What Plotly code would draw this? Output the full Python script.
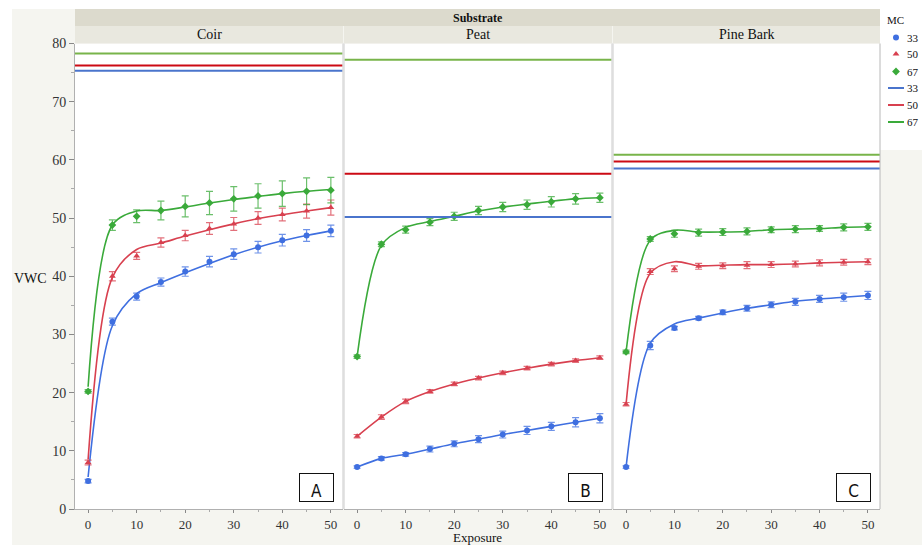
import plotly.graph_objects as go

exposure = [0, 5, 10, 15, 20, 25, 30, 35, 40, 45, 50]
mc_levels = [33, 50, 67]
substrates = ["Coir", "Peat", "Pine Bark"]
panel_letters = ["A", "B", "C"]

# means (VWC) per MC level
coir_mean = {33: [4.8, 32.2, 36.5, 39.0, 40.8, 42.5, 43.8, 45.0, 46.2, 47.0, 47.8],
             50: [8.0, 40.0, 43.5, 45.8, 47.0, 48.2, 49.0, 50.0, 50.6, 51.2, 51.8],
             67: [20.2, 48.8, 50.3, 51.3, 52.0, 52.6, 53.3, 53.8, 54.2, 54.6, 54.8]}
peat_mean = {33: [7.2, 8.7, 9.4, 10.3, 11.2, 12.0, 12.8, 13.5, 14.2, 14.9, 15.6],
             50: [12.5, 15.8, 18.5, 20.2, 21.5, 22.5, 23.4, 24.2, 24.9, 25.5, 26.0],
             67: [26.2, 45.5, 48.0, 49.3, 50.3, 51.3, 51.9, 52.3, 52.8, 53.3, 53.5]}
pine_mean = {33: [7.2, 28.1, 31.1, 32.8, 33.8, 34.5, 35.1, 35.6, 36.1, 36.4, 36.7],
             50: [18.0, 40.8, 41.3, 41.7, 41.8, 41.9, 42.0, 42.1, 42.3, 42.4, 42.5],
             67: [27.0, 46.4, 47.3, 47.5, 47.6, 47.7, 48.0, 48.1, 48.2, 48.4, 48.5]}

# error bar half-widths
coir_err = {33: [0.3, 0.6, 0.6, 0.7, 0.8, 0.9, 0.9, 1.0, 1.0, 1.0, 1.0],
            50: [0.4, 0.8, 0.6, 0.8, 0.9, 1.0, 1.1, 1.1, 1.1, 1.2, 1.3],
            67: [0.3, 0.9, 1.1, 1.6, 1.8, 2.0, 2.1, 2.1, 2.2, 2.3, 2.2]}
peat_err = {33: [0.2, 0.3, 0.3, 0.5, 0.5, 0.6, 0.6, 0.7, 0.7, 0.8, 0.8],
            50: [0.3, 0.4, 0.4, 0.3, 0.3, 0.3, 0.3, 0.3, 0.3, 0.3, 0.3],
            67: [0.3, 0.4, 0.6, 0.6, 0.7, 0.7, 0.8, 0.8, 0.9, 0.9, 0.8]}
pine_err = {33: [0.2, 0.7, 0.3, 0.3, 0.4, 0.5, 0.5, 0.6, 0.6, 0.7, 0.7],
            50: [0.3, 0.5, 0.5, 0.5, 0.5, 0.6, 0.5, 0.5, 0.5, 0.5, 0.5],
            67: [0.3, 0.4, 0.6, 0.6, 0.6, 0.6, 0.5, 0.6, 0.5, 0.6, 0.6]}

# fitted curve values
coir_fit = {33: [5.5, 31.5, 37.0, 38.9, 40.6, 42.2, 43.7, 45.0, 46.1, 47.0, 47.8],
            50: [8.5, 39.8, 44.6, 45.7, 46.9, 48.0, 49.0, 49.9, 50.6, 51.2, 51.8],
            67: [21.0, 48.8, 51.2, 51.3, 51.9, 52.6, 53.2, 53.7, 54.2, 54.6, 54.9]}
peat_fit = {33: [7.2, 8.7, 9.4, 10.3, 11.2, 12.0, 12.8, 13.5, 14.2, 14.9, 15.6],
            50: [12.5, 15.8, 18.5, 20.2, 21.5, 22.5, 23.4, 24.2, 24.9, 25.5, 26.0],
            67: [26.2, 45.3, 48.4, 49.4, 50.3, 51.2, 51.9, 52.4, 52.9, 53.3, 53.5]}
pine_fit = {33: [7.2, 28.5, 31.8, 32.8, 33.7, 34.5, 35.1, 35.7, 36.1, 36.4, 36.7],
            50: [18.0, 40.5, 42.5, 41.8, 41.9, 42.0, 42.0, 42.1, 42.3, 42.4, 42.5],
            67: [27.0, 46.2, 47.9, 47.6, 47.6, 47.7, 48.0, 48.1, 48.2, 48.4, 48.5]}

# horizontal reference lines
coir_ref = {33: 75.3, 50: 76.2, 67: 78.3}
peat_ref = {33: 50.2, 50: 57.6, 67: 77.2}
pine_ref = {33: 58.5, 50: 59.7, 67: 60.9}

y_ticks = [0, 10, 20, 30, 40, 50, 60, 70, 80]
x_ticks = [0, 10, 20, 30, 40, 50]
legend_labels = ["33", "50", "67"]

means = [coir_mean, peat_mean, pine_mean]
errs = [coir_err, peat_err, pine_err]
fits = [coir_fit, peat_fit, pine_fit]
refs = [coir_ref, peat_ref, pine_ref]

pt_color = {33: "#3f6fe0", 50: "#d8404f", 67: "#3aaa3a"}
err_color = {33: "rgba(63,111,224,0.75)", 50: "rgba(216,64,79,0.75)", 67: "rgba(58,170,58,0.75)"}
ref_color = {33: "#4a74cc", 50: "#cc0a14", 67: "#78b44a"}
leg_line_color = {33: "#4a74cc", 50: "#d8404f", 67: "#3aaa3a"}
symbols = {33: "circle", 50: "triangle-up", 67: "diamond"}

SERIF = "Liberation Serif"
W, H = 922, 545
L, R, T, B = 75, 0, 0, 36
pw = W - L - R
ph = H - T - B


def px_x(p):
    return (p - L) / pw


def px_y(q):
    return (H - B - q) / ph


PLOT_TOP = 43.5
domains = [[px_x(75), px_x(343)], [px_x(344), px_x(612)], [px_x(613), px_x(880)]]
ydom = [0, px_y(PLOT_TOP)]

fig = go.Figure()

for i in range(3):
    xa = "x" if i == 0 else f"x{i+1}"
    ya = "y" if i == 0 else f"y{i+1}"
    for mc in mc_levels:
        fig.add_trace(go.Scatter(
            x=exposure, y=fits[i][mc], mode="lines",
            line=dict(color=pt_color[mc], width=1.6, shape="spline", smoothing=0.9),
            xaxis=xa, yaxis=ya, showlegend=False, hoverinfo="skip"))
        fig.add_trace(go.Scatter(
            x=exposure, y=means[i][mc], mode="markers",
            marker=dict(symbol=symbols[mc], size=6, color=pt_color[mc]),
            error_y=dict(type="data", array=errs[i][mc], color=err_color[mc],
                         thickness=1.2, width=3.5),
            xaxis=xa, yaxis=ya, showlegend=False))
        fig.add_shape(type="line", xref=f"{xa} domain", yref=ya,
                      x0=0.0, x1=1.0, y0=refs[i][mc], y1=refs[i][mc],
                      line=dict(color=ref_color[mc], width=2))

# hand-built legend on its own pixel-scaled axis (x4/y4)
leg_rows_marker = [37.5, 54, 71.5]
leg_rows_line = [88, 105, 122]
for k, mc in enumerate(mc_levels):
    fig.add_trace(go.Scatter(x=[896], y=[leg_rows_marker[k]], mode="markers",
                             marker=dict(symbol=symbols[mc], size=6, color=pt_color[mc]),
                             xaxis="x4", yaxis="y4", showlegend=False, hoverinfo="skip",
                             cliponaxis=False))
    fig.add_trace(go.Scatter(x=[888, 904], y=[leg_rows_line[k]] * 2, mode="lines",
                             line=dict(color=leg_line_color[mc], width=2),
                             xaxis="x4", yaxis="y4", showlegend=False, hoverinfo="skip",
                             cliponaxis=False))

axis_font = dict(family=SERIF, size=14, color="#333333")
x_tick_font = dict(family=SERIF, size=13, color="#333333")
layout_axes = {}
for i in range(3):
    sx = "xaxis" if i == 0 else f"xaxis{i+1}"
    sy = "yaxis" if i == 0 else f"yaxis{i+1}"
    layout_axes[sx] = dict(domain=domains[i], range=[-2.7, 52.5], tickvals=x_ticks,
                           ticks="outside", ticklen=3, tickcolor="#888888",
                           minor=dict(dtick=5, ticklen=2, ticks="outside", tickcolor="#aaaaaa"),
                           showgrid=False, zeroline=False, showline=True,
                           linecolor="#b0b0b0", linewidth=1, tickfont=x_tick_font,
                           anchor="y" if i == 0 else f"y{i+1}")
    layout_axes[sy] = dict(domain=ydom, range=[0, 80], showgrid=False, zeroline=False,
                           anchor="x" if i == 0 else f"x{i+1}")
    if i == 0:
        layout_axes[sy].update(tickvals=y_ticks, ticks="outside", ticklen=5,
                               tickcolor="#888888",
                               minor=dict(dtick=5, ticklen=3, ticks="outside", tickcolor="#aaaaaa"),
                               showline=True, linecolor="#b0b0b0", linewidth=1,
                               tickfont=axis_font)
    else:
        layout_axes[sy].update(showticklabels=False, matches="y")

layout_axes["xaxis4"] = dict(domain=[px_x(880), 1], range=[880, 922], visible=False,
                             anchor="y4", fixedrange=True)
layout_axes["yaxis4"] = dict(domain=[px_y(150), 1], range=[150, 0], visible=False,
                             anchor="x4", fixedrange=True)
fig.update_layout(**layout_axes)

shapes_bg = []
# white outer strips (top / left edge of the original image)
shapes_bg.append(dict(type="rect", xref="paper", yref="paper", x0=px_x(0), x1=px_x(W),
                      y0=px_y(9), y1=px_y(0), fillcolor="white", line=dict(width=0), layer="below"))
shapes_bg.append(dict(type="rect", xref="paper", yref="paper", x0=px_x(0), x1=px_x(12),
                      y0=px_y(H), y1=px_y(0), fillcolor="white", line=dict(width=0), layer="below"))
# header bands
shapes_bg.append(dict(type="rect", xref="paper", yref="paper", x0=domains[0][0], x1=domains[2][1],
                      y0=px_y(26), y1=px_y(9), fillcolor="#dcdacd", line=dict(width=0)))
for d in domains:
    shapes_bg.append(dict(type="rect", xref="paper", yref="paper", x0=d[0], x1=d[1],
                          y0=px_y(PLOT_TOP), y1=px_y(26), fillcolor="#e9e8df", line=dict(width=0)))
# panel separators and right border
for xv in [domains[0][1], domains[1][0], domains[1][1], domains[2][0]]:
    shapes_bg.append(dict(type="line", xref="paper", yref="paper", x0=xv, x1=xv,
                          y0=0, y1=px_y(PLOT_TOP), line=dict(color="#dddddd", width=1.5)))
shapes_bg.append(dict(type="line", xref="paper", yref="paper", x0=domains[2][1], x1=domains[2][1],
                      y0=0, y1=px_y(PLOT_TOP), line=dict(color="#b8b8b8", width=1)))
for s in shapes_bg:
    fig.add_shape(**s)

ann = []
ann.append(dict(text="<b>Substrate</b>", xref="paper", yref="paper",
                x=(domains[0][0] + domains[2][1]) / 2, y=px_y(17.5),
                showarrow=False, font=dict(family=SERIF, size=12, color="#111111"),
                xanchor="center", yanchor="middle"))
for i, name in enumerate(substrates):
    ann.append(dict(text=name, xref="paper", yref="paper",
                    x=(domains[i][0] + domains[i][1]) / 2, y=px_y(34.5),
                    showarrow=False, font=dict(family=SERIF, size=14, color="#111111"),
                    xanchor="center", yanchor="middle"))
    xa = "x" if i == 0 else f"x{i+1}"
    ya = "y" if i == 0 else f"y{i+1}"
    ann.append(dict(text=panel_letters[i], xref=f"{xa} domain", yref=f"{ya} domain",
                    x=0.966, y=0.015, xanchor="right", yanchor="bottom", showarrow=False,
                    width=33, height=27, valign="bottom", align="center",
                    bordercolor="#111111", borderwidth=1, borderpad=0, bgcolor="white",
                    font=dict(family="DejaVu Sans Condensed, DejaVu Sans", size=17, color="#111111")))
ann.append(dict(text="VWC", xref="paper", yref="paper", x=px_x(12), y=px_y(278),
                xanchor="left", yanchor="middle", showarrow=False,
                font=dict(family=SERIF, size=14, color="#111111")))
ann.append(dict(text="Exposure", xref="paper", yref="paper",
                x=(domains[0][0] + domains[2][1]) / 2, y=px_y(537.5),
                xanchor="center", yanchor="middle", showarrow=False,
                font=dict(family=SERIF, size=13, color="#111111")))
# legend texts
ann.append(dict(text="MC", xref="x4", yref="y4", x=885, y=19.5, xanchor="left",
                yanchor="middle", showarrow=False,
                font=dict(family=SERIF, size=11, color="#111111")))
for k in range(3):
    ann.append(dict(text=legend_labels[k], xref="x4", yref="y4", x=905, y=leg_rows_marker[k],
                    xanchor="left", yanchor="middle", showarrow=False,
                    font=dict(family=SERIF, size=11, color="#111111")))
    ann.append(dict(text=legend_labels[k], xref="x4", yref="y4", x=904.5, y=leg_rows_line[k],
                    xanchor="left", yanchor="middle", showarrow=False,
                    font=dict(family=SERIF, size=11, color="#111111")))
fig.update_layout(annotations=ann)

fig.update_layout(
    width=W, height=H,
    margin=dict(l=L, r=R, t=T, b=B, pad=0, autoexpand=False),
    paper_bgcolor="#f5f5f0",
    plot_bgcolor="white",
    showlegend=False,
)

fig.write_html("out.html", config={"displayModeBar": False},
               post_script="document.body.style.margin='0';document.body.style.overflow='hidden';")
